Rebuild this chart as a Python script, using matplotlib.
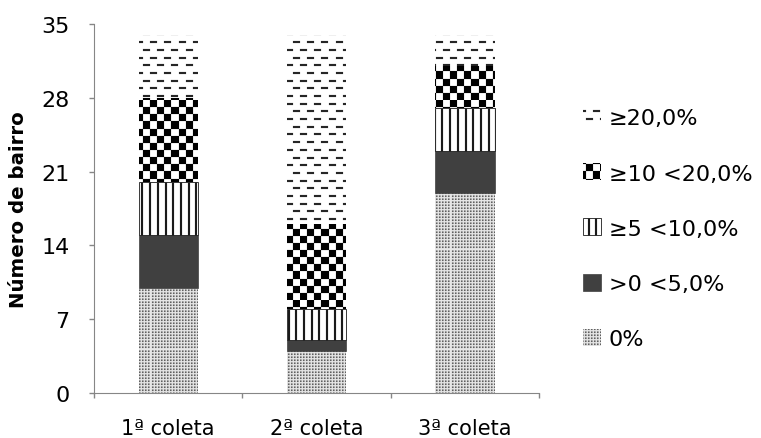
import numpy as np
import matplotlib
matplotlib.use('Agg')
import matplotlib.pyplot as plt
from matplotlib import hatch as mhatch
from matplotlib.path import Path

categorias = ['1ª coleta', '2ª coleta', '3ª coleta']
faixas = ['0%', '>0 <5,0%', '≥5 <10,0%', '≥10 <20,0%', '≥20,0%']
v_0 = [10, 4, 19]
v_0_5 = [5, 1, 4]
v_5_10 = [5, 3, 4]
v_10_20 = [8, 8, 4]
v_20 = [6, 18, 3]
yticks = [0, 7, 14, 21, 28, 35]

DPI = 100


def grade(n):
    # bordas arredondadas ao pixel da celula do hachurado (1 polegada = DPI px)
    return np.round(np.arange(n + 1) * DPI / n) / DPI


# padroes de preenchimento feitos de retangulos cheios
class RectHatch(mhatch.HatchPatternBase):
    char = None

    def __init__(self, hatch, density):
        self.rects = self.cells() if (hatch and self.char in hatch) else []
        self.num_vertices = 5 * len(self.rects)

    def cells(self):
        return []

    def set_vertices_and_codes(self, vertices, codes):
        for k, (x, y, w, h) in enumerate(self.rects):
            vertices[5*k:5*k+5] = [(x, y), (x+w, y), (x+w, y+h), (x, y+h), (x, y)]
            codes[5*k:5*k+5] = [Path.MOVETO, Path.LINETO, Path.LINETO,
                                Path.LINETO, Path.CLOSEPOLY]


class Xadrez(RectHatch):
    char = 'x'

    def cells(self):
        n = 14
        e = grade(n)
        return [(e[i], e[j], e[i+1] - e[i], e[j+1] - e[j])
                for i in range(n) for j in range(n) if (i + j) % 2 == 0]


class Tracos(RectHatch):
    char = '-'

    def cells(self):
        rows, per = 13, 7
        ey = grade(rows)
        p = 1 / per
        out = []
        for r in range(rows):
            off = (r % 2) * p / 2
            for i in range(-1, per + 1):
                x0 = np.round((i * p + off) * DPI) / DPI
                out.append((x0, ey[r] + 0.03, 0.07, 0.02))
        return out


class Verticais(RectHatch):
    char = '|'

    def cells(self):
        n = 13
        e = grade(n)
        return [(e[i] + 0.03, 0, 0.02, 1) for i in range(n)]


class Pontos(RectHatch):
    char = '.'

    def cells(self):
        n = 33
        e = grade(n)
        return [(e[i], e[j], 0.015, 0.015) for i in range(n) for j in range(n)]


mhatch._hatch_types[:] = [Xadrez, Tracos, Verticais, Pontos]
plt.rcParams['hatch.linewidth'] = 0.1
plt.rcParams['font.family'] = ['DejaVu Sans']

estilos = [
    dict(color='#e6e6e6', edgecolor='#606060', hatch='.', linewidth=0),
    dict(color='#404040', edgecolor='#404040', hatch=None, linewidth=0.5),
    dict(color='white', edgecolor='#1a1a1a', hatch='|', linewidth=0.6),
    dict(color='white', edgecolor='black', hatch='x', linewidth=0),
    dict(color='white', edgecolor='#262626', hatch='-', linewidth=0),
]
series = [v_0, v_0_5, v_5_10, v_10_20, v_20]

fig = plt.figure(figsize=(7.61, 4.39), dpi=DPI)
ax = fig.add_axes([0.1235, 0.1025, 0.585, 0.8405])

x = np.arange(len(categorias))
base = np.zeros(len(categorias))
handles = []
for vals, lab, st in zip(series, faixas, estilos):
    b = ax.bar(x, vals, 0.4, bottom=base, label=lab, **st)
    handles.append(b)
    base += np.array(vals)

ax.set_xlim(-0.5, len(categorias) - 0.5)
ax.set_ylim(0, 35)
ax.set_yticks(yticks)
ax.set_xticks(x)
ax.set_xticklabels(categorias, fontsize=15)
ax.set_xticks(np.arange(len(categorias) + 1) - 0.5, minor=True)
ax.tick_params(axis='x', which='major', length=0, pad=18)
ax.tick_params(axis='x', which='minor', length=3.5, color='#868686', width=1)
ax.tick_params(axis='y', labelsize=16, length=3.5, color='#868686', width=1, pad=14)
for s in ['top', 'right']:
    ax.spines[s].set_visible(False)
for s in ['left', 'bottom']:
    ax.spines[s].set_color('#868686')
ax.set_ylabel('Número de bairro', fontsize=14.2, fontweight='bold')
ax.yaxis.set_label_coords(-0.148, 0.5)

fig.legend(handles[::-1], faixas[::-1], loc='center left', bbox_to_anchor=(0.766, 0.477),
           frameon=False, fontsize=16, handlelength=0.8, handleheight=0.8,
           handletextpad=0.36, labelspacing=1.57, borderpad=0, borderaxespad=0)

fig.savefig('out.png', dpi=DPI)
